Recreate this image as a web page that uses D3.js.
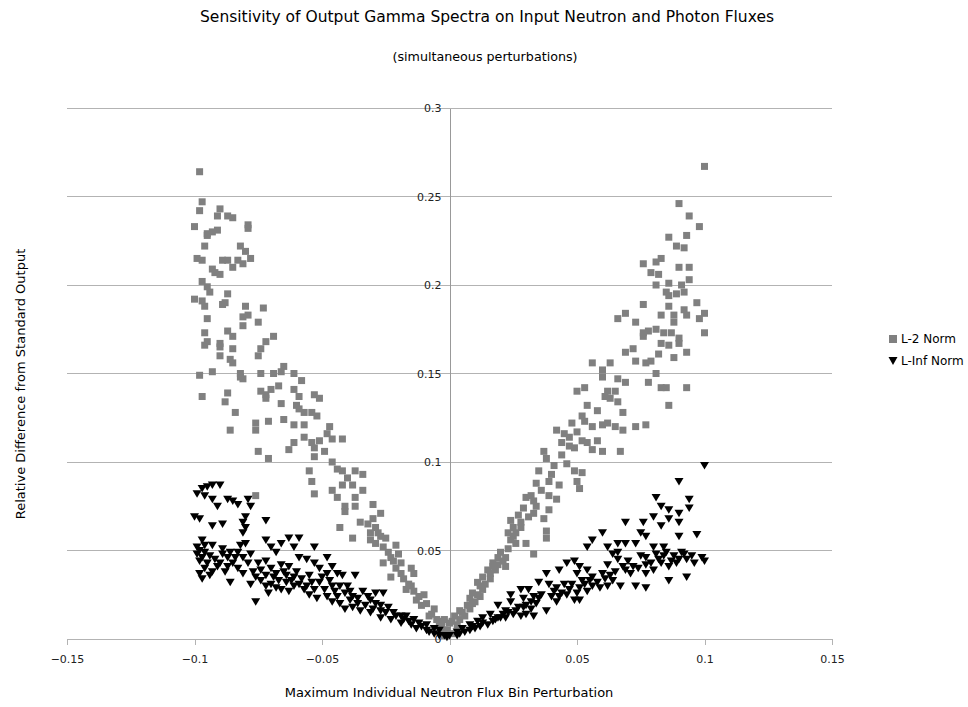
<!DOCTYPE html>
<html>
<head>
<meta charset="utf-8">
<script src="https://cdn.jsdelivr.net/npm/d3@7"></script>
<style>
  body { margin: 0; background: #fff; }
  text { font-family: "DejaVu Sans", sans-serif; fill: #000; }
  .tick-label { font-family: "DejaVu Sans", sans-serif; font-size: 11px; fill: #222; }
</style>
</head>
<body>
<div id="chart"></div>
<script>
// L-2 norm points [perturbation, relative difference], negative side
const l2Left = [
  [-0.098,0.264],[-0.097,0.247],[-0.098,0.242],[-0.090,0.243],[-0.091,0.239],[-0.087,0.239],[-0.085,0.238],
  [-0.079,0.234],[-0.079,0.232],[-0.100,0.233],[-0.091,0.231],[-0.093,0.230],[-0.095,0.229],[-0.095,0.228],
  [-0.096,0.222],[-0.082,0.222],[-0.080,0.219],[-0.078,0.215],[-0.099,0.215],[-0.097,0.214],[-0.089,0.214],
  [-0.087,0.214],[-0.083,0.214],[-0.081,0.212],[-0.085,0.210],[-0.093,0.209],[-0.092,0.207],[-0.090,0.206],
  [-0.097,0.202],[-0.095,0.199],[-0.094,0.196],[-0.087,0.195],[-0.100,0.192],[-0.097,0.191],[-0.096,0.188],
  [-0.089,0.189],[-0.088,0.190],[-0.080,0.188],[-0.073,0.187],[-0.081,0.182],[-0.079,0.183],[-0.075,0.179],
  [-0.095,0.181],[-0.081,0.177],[-0.096,0.173],[-0.087,0.174],[-0.085,0.171],[-0.069,0.171],[-0.072,0.168],
  [-0.074,0.164],[-0.075,0.160],[-0.095,0.168],[-0.096,0.166],[-0.090,0.167],[-0.090,0.165],[-0.090,0.160],
  [-0.085,0.164],[-0.086,0.158],[-0.085,0.156],[-0.098,0.149],[-0.093,0.151],[-0.082,0.150],[-0.081,0.147],
  [-0.082,0.148],[-0.074,0.150],[-0.069,0.150],[-0.066,0.151],[-0.065,0.154],[-0.061,0.150],[-0.058,0.146],
  [-0.074,0.140],[-0.072,0.138],[-0.070,0.141],[-0.067,0.143],[-0.061,0.141],[-0.059,0.137],[-0.097,0.137],
  [-0.087,0.139],[-0.053,0.138],[-0.088,0.134],[-0.072,0.136],[-0.066,0.133],[-0.060,0.132],[-0.051,0.136],
  [-0.059,0.130],[-0.057,0.128],[-0.054,0.128],[-0.052,0.126],[-0.084,0.128],[-0.076,0.122],[-0.076,0.118],
  [-0.071,0.123],[-0.065,0.124],[-0.086,0.118],[-0.061,0.121],[-0.057,0.121],[-0.047,0.120],[-0.048,0.116],
  [-0.046,0.113],[-0.042,0.113],[-0.051,0.112],[-0.057,0.114],[-0.061,0.111],[-0.063,0.107],[-0.054,0.111],
  [-0.053,0.108],[-0.049,0.106],[-0.075,0.106],[-0.071,0.102],[-0.053,0.103],[-0.055,0.095],[-0.054,0.089],
  [-0.053,0.082],[-0.046,0.100],[-0.044,0.096],[-0.042,0.095],[-0.040,0.091],[-0.037,0.095],[-0.034,0.093],
  [-0.046,0.084],[-0.044,0.080],[-0.042,0.087],[-0.038,0.087],[-0.034,0.084],[-0.037,0.080],[-0.041,0.075],
  [-0.041,0.072],[-0.037,0.075],[-0.076,0.081],[-0.030,0.076],[-0.027,0.071],[-0.030,0.068],[-0.029,0.063],
  [-0.031,0.060],[-0.031,0.056],[-0.029,0.054],[-0.025,0.057],[-0.035,0.066],[-0.043,0.063],[-0.038,0.057],
  [-0.021,0.053],[-0.020,0.048],[-0.023,0.046],[-0.019,0.043],[-0.015,0.040],[-0.014,0.037],[-0.026,0.043],
  [-0.023,0.035],[-0.017,0.028],[-0.014,0.027],[-0.010,0.025],[-0.013,0.022],[-0.009,0.020],[-0.006,0.017],
  [-0.002,0.011],[-0.001,0.005],[0.001,0.003],[-0.004,0.008],[-0.008,0.013],[-0.011,0.019],[-0.016,0.031],
  [-0.018,0.034],[-0.002,0.002],[-0.007,0.014],[-0.005,0.011],[-0.003,0.007],[-0.012,0.024],[-0.015,0.030],
  [-0.019,0.037],[-0.021,0.040],[-0.022,0.044],[-0.024,0.049],[-0.026,0.052],[-0.027,0.058],[-0.028,0.060],
  [-0.032,0.065]
];

// L-2 norm points, positive side
const l2Right = [
  [0.100,0.267],[0.090,0.246],[0.094,0.239],[0.098,0.233],[0.086,0.227],[0.093,0.228],[0.089,0.222],
  [0.092,0.221],[0.076,0.212],[0.081,0.213],[0.083,0.215],[0.090,0.210],[0.094,0.210],[0.094,0.203],
  [0.079,0.207],[0.082,0.206],[0.081,0.200],[0.086,0.201],[0.091,0.200],[0.085,0.196],[0.086,0.194],
  [0.089,0.195],[0.092,0.196],[0.076,0.189],[0.086,0.188],[0.097,0.190],[0.069,0.184],[0.066,0.181],
  [0.073,0.179],[0.083,0.183],[0.088,0.183],[0.088,0.179],[0.092,0.186],[0.093,0.183],[0.098,0.181],
  [0.100,0.184],[0.076,0.173],[0.078,0.174],[0.081,0.175],[0.084,0.173],[0.076,0.171],[0.087,0.173],
  [0.090,0.170],[0.100,0.173],[0.083,0.167],[0.086,0.166],[0.090,0.167],[0.069,0.162],[0.072,0.164],
  [0.082,0.161],[0.093,0.162],[0.073,0.157],[0.077,0.156],[0.079,0.157],[0.088,0.159],[0.056,0.156],
  [0.063,0.156],[0.060,0.152],[0.060,0.148],[0.081,0.150],[0.066,0.147],[0.069,0.145],[0.078,0.145],
  [0.050,0.140],[0.053,0.142],[0.062,0.140],[0.065,0.140],[0.061,0.137],[0.083,0.142],[0.085,0.142],
  [0.093,0.142],[0.054,0.132],[0.058,0.129],[0.063,0.136],[0.066,0.134],[0.068,0.128],[0.086,0.132],
  [0.052,0.126],[0.053,0.123],[0.048,0.122],[0.042,0.118],[0.045,0.116],[0.050,0.117],[0.056,0.120],
  [0.060,0.121],[0.062,0.122],[0.065,0.120],[0.068,0.118],[0.073,0.120],[0.077,0.121],[0.044,0.111],
  [0.047,0.109],[0.049,0.108],[0.052,0.112],[0.054,0.111],[0.058,0.112],[0.056,0.107],[0.060,0.106],
  [0.067,0.106],[0.037,0.106],[0.038,0.102],[0.041,0.098],[0.035,0.095],[0.046,0.099],[0.049,0.095],
  [0.052,0.094],[0.050,0.089],[0.051,0.085],[0.034,0.088],[0.039,0.089],[0.043,0.087],[0.030,0.080],
  [0.032,0.081],[0.039,0.081],[0.042,0.079],[0.034,0.075],[0.033,0.071],[0.031,0.069],[0.039,0.073],
  [0.037,0.068],[0.038,0.061],[0.038,0.057],[0.024,0.067],[0.025,0.063],[0.028,0.063],[0.023,0.060],
  [0.024,0.056],[0.026,0.054],[0.030,0.054],[0.033,0.048],[0.020,0.049],[0.019,0.046],[0.017,0.043],
  [0.022,0.046],[0.022,0.041],[0.015,0.039],[0.013,0.035],[0.011,0.032],[0.012,0.030],[0.009,0.026],
  [0.008,0.023],[0.007,0.019],[0.004,0.016],[0.002,0.013],[0.000,0.009],[-0.002,0.005],[-0.003,0.010],
  [0.017,0.041],[0.016,0.037],[0.011,0.025],[0.009,0.020],[0.005,0.015],[0.001,0.010],[-0.001,0.005],
  [0.003,0.008],[0.004,0.011],[0.006,0.013],[0.008,0.017],[0.010,0.021],[0.012,0.024],[0.013,0.028],
  [0.014,0.031],[0.016,0.034],[0.018,0.039],[0.019,0.042],[0.021,0.044],[0.023,0.051],[0.025,0.058],
  [0.026,0.060],[0.028,0.066],[0.027,0.070],[0.029,0.074],[0.033,0.078],[0.036,0.084],[0.040,0.093],
  [0.044,0.104],[0.047,0.114]
];

// L-Inf norm points, negative side
const linfLeft = [
  [-0.097,0.085],[-0.095,0.086],[-0.093,0.087],[-0.090,0.087],[-0.099,0.082],[-0.096,0.081],[-0.093,0.079],
  [-0.087,0.079],[-0.085,0.078],[-0.083,0.076],[-0.079,0.079],[-0.078,0.075],[-0.091,0.075],[-0.100,0.069],
  [-0.098,0.068],[-0.093,0.064],[-0.089,0.065],[-0.080,0.069],[-0.081,0.066],[-0.080,0.063],[-0.081,0.060],
  [-0.072,0.067],[-0.097,0.056],[-0.096,0.053],[-0.093,0.053],[-0.099,0.048],[-0.097,0.046],[-0.095,0.043],
  [-0.098,0.037],[-0.093,0.038],[-0.097,0.034],[-0.089,0.051],[-0.089,0.048],[-0.086,0.049],[-0.087,0.046],
  [-0.090,0.043],[-0.085,0.043],[-0.088,0.038],[-0.086,0.032],[-0.082,0.053],[-0.080,0.054],[-0.078,0.048],
  [-0.081,0.046],[-0.079,0.043],[-0.083,0.040],[-0.081,0.037],[-0.072,0.056],[-0.070,0.052],[-0.066,0.054],
  [-0.063,0.057],[-0.059,0.057],[-0.061,0.052],[-0.053,0.052],[-0.068,0.049],[-0.075,0.043],[-0.072,0.044],
  [-0.074,0.039],[-0.072,0.036],[-0.074,0.033],[-0.069,0.035],[-0.072,0.030],[-0.071,0.026],[-0.076,0.021],
  [-0.066,0.042],[-0.065,0.038],[-0.063,0.041],[-0.067,0.033],[-0.064,0.032],[-0.061,0.035],[-0.060,0.038],
  [-0.066,0.028],[-0.063,0.027],[-0.061,0.030],[-0.059,0.031],[-0.057,0.028],[-0.059,0.046],[-0.056,0.045],
  [-0.053,0.043],[-0.051,0.040],[-0.048,0.046],[-0.046,0.041],[-0.044,0.037],[-0.042,0.036],[-0.037,0.036],
  [-0.048,0.037],[-0.056,0.030],[-0.053,0.028],[-0.055,0.025],[-0.052,0.023],[-0.049,0.028],[-0.048,0.024],
  [-0.046,0.030],[-0.043,0.030],[-0.044,0.024],[-0.040,0.030],[-0.046,0.021],[-0.043,0.020],[-0.041,0.017],
  [-0.039,0.022],[-0.036,0.023],[-0.034,0.027],[-0.038,0.018],[-0.035,0.016],[-0.031,0.022],[-0.029,0.026],
  [-0.026,0.026],[-0.030,0.017],[-0.027,0.016],[-0.025,0.015],[-0.022,0.015],[-0.019,0.013],[-0.017,0.013],
  [-0.014,0.011],[-0.012,0.009],[-0.009,0.008],[-0.006,0.006],[-0.004,0.005],[-0.031,0.015],[-0.027,0.012],
  [-0.023,0.011],[-0.019,0.009],[-0.015,0.008],[-0.013,0.006],[-0.009,0.005],[-0.006,0.003],[-0.002,0.002],
  [-0.099,0.052],[-0.098,0.050],[-0.096,0.049],[-0.094,0.047],[-0.092,0.045],[-0.098,0.044],[-0.096,0.040],
  [-0.094,0.036],[-0.091,0.041],[-0.087,0.041],[-0.084,0.046],[-0.083,0.049],[-0.077,0.038],[-0.076,0.035],
  [-0.078,0.031],[-0.070,0.040],[-0.068,0.037],[-0.070,0.031],[-0.068,0.029],[-0.064,0.036],[-0.062,0.033],
  [-0.058,0.034],[-0.055,0.036],[-0.054,0.032],[-0.051,0.032],[-0.050,0.035],[-0.047,0.033],[-0.045,0.027],
  [-0.041,0.026],[-0.039,0.027],[-0.038,0.024],[-0.036,0.020],[-0.033,0.019],[-0.032,0.024],[-0.029,0.020],
  [-0.027,0.019],[-0.024,0.018],[-0.021,0.013],[-0.018,0.011],[-0.016,0.010],[-0.011,0.007],[-0.008,0.004],
  [-0.004,0.002]
];

// L-Inf norm points, positive side
const linfRight = [
  [0.100,0.098],[0.090,0.089],[0.081,0.080],[0.094,0.079],[0.083,0.075],[0.086,0.073],[0.090,0.071],
  [0.094,0.074],[0.086,0.068],[0.090,0.066],[0.080,0.069],[0.076,0.066],[0.069,0.066],[0.083,0.064],
  [0.075,0.060],[0.077,0.058],[0.090,0.058],[0.097,0.059],[0.060,0.060],[0.056,0.056],[0.054,0.052],
  [0.062,0.052],[0.066,0.054],[0.069,0.054],[0.073,0.054],[0.080,0.052],[0.084,0.052],[0.075,0.047],
  [0.077,0.046],[0.081,0.048],[0.085,0.049],[0.088,0.047],[0.092,0.048],[0.093,0.045],[0.099,0.046],
  [0.100,0.044],[0.064,0.048],[0.066,0.045],[0.062,0.042],[0.068,0.041],[0.072,0.041],[0.077,0.042],
  [0.080,0.039],[0.083,0.043],[0.086,0.041],[0.089,0.043],[0.093,0.035],[0.086,0.033],[0.077,0.037],
  [0.046,0.043],[0.049,0.044],[0.051,0.041],[0.050,0.037],[0.054,0.039],[0.056,0.035],[0.060,0.037],
  [0.064,0.033],[0.067,0.030],[0.073,0.030],[0.077,0.029],[0.043,0.039],[0.052,0.033],[0.038,0.037],
  [0.035,0.032],[0.039,0.031],[0.042,0.029],[0.045,0.031],[0.047,0.028],[0.050,0.026],[0.054,0.027],
  [0.056,0.030],[0.059,0.029],[0.062,0.030],[0.049,0.022],[0.051,0.022],[0.028,0.028],[0.031,0.028],
  [0.024,0.025],[0.024,0.021],[0.029,0.023],[0.033,0.024],[0.034,0.020],[0.038,0.016],[0.042,0.021],
  [0.043,0.024],[0.029,0.018],[0.032,0.017],[0.019,0.019],[0.022,0.016],[0.016,0.014],[0.019,0.012],
  [0.013,0.012],[0.011,0.010],[0.008,0.008],[0.022,0.012],[0.025,0.014],[0.028,0.013],[0.030,0.014],
  [0.033,0.013],[0.005,0.006],[0.003,0.004],[0.000,0.002],[-0.001,0.001],[0.009,0.007],[0.013,0.009],
  [0.017,0.010],[0.008,0.005],[0.004,0.003],
  [0.003,0.002],[0.006,0.004],[0.010,0.006],[0.012,0.007],[0.015,0.008],[0.018,0.011],[0.020,0.012],
  [0.021,0.014],[0.023,0.015],[0.026,0.016],[0.027,0.018],[0.030,0.019],[0.032,0.021],[0.035,0.023],
  [0.036,0.025],[0.040,0.024],[0.041,0.027],[0.044,0.026],[0.046,0.025],[0.048,0.031],[0.051,0.029],
  [0.053,0.031],[0.055,0.033],[0.058,0.032],[0.061,0.034],[0.063,0.036],[0.065,0.038],[0.069,0.039],
  [0.071,0.037],[0.074,0.040],[0.079,0.043],[0.082,0.045],[0.084,0.047],[0.087,0.044],[0.090,0.045],
  [0.091,0.049],[0.095,0.047],[0.096,0.043],[0.070,0.044],[0.066,0.049]
];

const xTicks = [-0.15, -0.1, -0.05, 0, 0.05, 0.1, 0.15];
const yTicks = [0, 0.05, 0.1, 0.15, 0.2, 0.25, 0.3];
const seriesNames = ['L-2 Norm', 'L-Inf Norm'];

const l2Points = l2Left.concat(l2Right);
const linfPoints = linfLeft.concat(linfRight);

const width = 968, height = 707;
const margin = { top: 108, right: 136, bottom: 68, left: 67 };

const svg = d3.select('#chart').append('svg')
  .attr('width', width)
  .attr('height', height);

const x = d3.scaleLinear().domain([-0.15, 0.15]).range([margin.left, width - margin.right]);
const y = d3.scaleLinear().domain([0, 0.3]).range([height - margin.bottom, margin.top]);

// horizontal grid lines
svg.append('g')
  .selectAll('line')
  .data(yTicks.filter(d => d > 0))
  .join('line')
  .attr('x1', x(-0.15))
  .attr('x2', x(0.15))
  .attr('y1', d => y(d))
  .attr('y2', d => y(d))
  .attr('stroke', '#b3b3b3')
  .attr('stroke-width', 1)
  .attr('shape-rendering', 'crispEdges');

// bottom x axis
const xAxis = d3.axisBottom(x)
  .tickValues(xTicks)
  .tickSize(6)
  .tickFormat(d => d === 0 ? '0' : d3.format('')(d));

const gx = svg.append('g')
  .attr('transform', `translate(0,${y(0)})`)
  .call(xAxis);
gx.select('.domain').attr('stroke', '#b3b3b3').attr('shape-rendering', 'crispEdges');
gx.selectAll('.tick line').attr('stroke', '#b3b3b3').attr('shape-rendering', 'crispEdges');
gx.selectAll('.tick text')
  .attr('class', 'tick-label')
  .attr('y', 20)
  .attr('dy', '0.32em');

// y axis at x = 0
const yAxis = d3.axisLeft(y)
  .tickValues(yTicks)
  .tickSize(0)
  .tickPadding(8)
  .tickFormat(d => d === 0 ? '0' : d3.format('')(d));

const gy = svg.append('g')
  .attr('transform', `translate(${x(0)},0)`)
  .call(yAxis);
gy.select('.domain').attr('stroke', '#999').attr('shape-rendering', 'crispEdges');
gy.selectAll('.tick text').attr('class', 'tick-label');

// squares for L-2 norm
const sq = 7;
svg.append('g')
  .selectAll('rect')
  .data(l2Points)
  .join('rect')
  .attr('x', d => x(d[0]) - sq / 2)
  .attr('y', d => y(d[1]) - sq / 2)
  .attr('width', sq)
  .attr('height', sq)
  .attr('fill', '#808080');

// down-pointing triangles for L-Inf norm
const tri = (cx, cy) => `M${cx - 4.5},${cy - 3.5}L${cx + 4.5},${cy - 3.5}L${cx},${cy + 4}Z`;
svg.append('g')
  .selectAll('path')
  .data(linfPoints)
  .join('path')
  .attr('d', d => tri(x(d[0]), y(d[1])))
  .attr('fill', '#000');

// titles
svg.append('text')
  .attr('x', 487)
  .attr('y', 22)
  .attr('text-anchor', 'middle')
  .style('font-size', '15.5px')
  .text('Sensitivity of Output Gamma Spectra on Input Neutron and Photon Fluxes');

svg.append('text')
  .attr('x', 485)
  .attr('y', 61)
  .attr('text-anchor', 'middle')
  .style('font-size', '12.7px')
  .text('(simultaneous perturbations)');

svg.append('text')
  .attr('x', 449)
  .attr('y', 697)
  .attr('text-anchor', 'middle')
  .style('font-size', '13px')
  .text('Maximum Individual Neutron Flux Bin Perturbation');

svg.append('text')
  .attr('transform', 'translate(25,384) rotate(-90)')
  .attr('text-anchor', 'middle')
  .style('font-size', '13px')
  .text('Relative Difference from Standard Output');

// legend
const legend = svg.append('g').attr('transform', 'translate(893,339)');
legend.append('rect')
  .attr('x', -4).attr('y', -4).attr('width', 8).attr('height', 8)
  .attr('fill', '#808080');
legend.append('path')
  .attr('d', 'M-4.5,18L4.5,18L0,26Z')
  .attr('fill', '#000');
legend.selectAll('text.leg')
  .data(seriesNames)
  .join('text')
  .attr('class', 'tick-label leg')
  .attr('x', 8)
  .attr('y', (d, i) => i * 22)
  .attr('dy', '0.35em')
  .style('font-size', '12px')
  .style('fill', '#000')
  .text(d => d);
</script>
</body>
</html>
